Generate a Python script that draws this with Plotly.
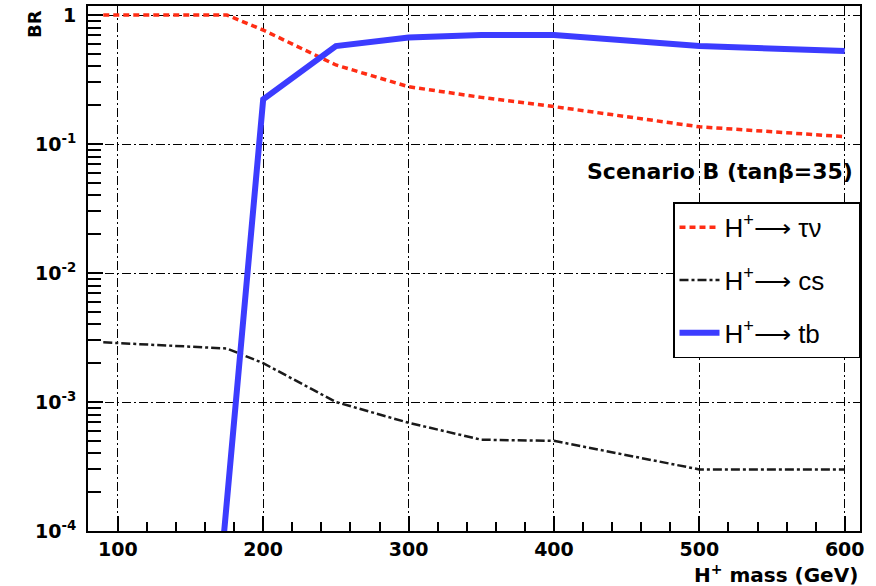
import plotly.graph_objects as go

# ---- data ----
mass_taunu = [90, 175, 200, 250, 300, 350, 400, 500, 600]
br_taunu = [1.0, 1.0, 0.765, 0.41, 0.278, 0.23, 0.195, 0.136, 0.114]

mass_cs = [90, 175, 200, 250, 300, 350, 400, 500, 600]
br_cs = [2.9e-3, 2.6e-3, 2.0e-3, 1.0e-3, 6.9e-4, 5.1e-4, 5.0e-4, 3.0e-4, 3.0e-4]

mass_tb = [170, 200, 250, 300, 350, 400, 500, 600]
br_tb = [4.0e-5, 0.222, 0.575, 0.67, 0.70, 0.70, 0.575, 0.526]

pad = "\u00a0" * 4
names = ["H<sup>+</sup>\u27f6 \u03c4\u03bd" + pad, "H<sup>+</sup>\u27f6 cs" + pad,
         "H<sup>+</sup>\u27f6 tb" + pad]

x_ticks = [100, 200, 300, 400, 500, 600]
x_minor = [v for v in range(80, 611, 20) if v not in x_ticks]
y_ticks = [1e-4, 1e-3, 1e-2, 1e-1, 1]
y_ticktext = ["10<sup>-4</sup>", "10<sup>-3</sup>", "10<sup>-2</sup>", "10<sup>-1</sup>", "1"]
y_minor = [m * d for d in [1e-4, 1e-3, 1e-2, 1e-1] for m in range(2, 10)]

fig = go.Figure()
fig.add_trace(go.Scatter(x=mass_taunu, y=br_taunu, mode="lines", name=names[0],
                         line=dict(color="#ff2d14", width=3.5, dash="6px,4px"),
                         legendgroup="a"))
fig.add_trace(go.Scatter(x=mass_cs, y=br_cs, mode="lines", name=names[1],
                         line=dict(color="#1a1a1a", width=2.5, dash="9px,3px,3px,3px"),
                         legendgroup="b"))
fig.add_trace(go.Scatter(x=mass_tb, y=br_tb, mode="lines", name=names[2],
                         line=dict(color="#3c3cff", width=6),
                         legendgroup="c"))

axis_font = dict(family="DejaVu Sans", size=19, color="black", weight="bold")
grid = dict(showgrid=True, gridcolor="black", gridwidth=1.3, griddash="9px,3px,2px,3px")

fig.update_xaxes(range=[79.5, 610.5], tickvals=x_ticks, ticktext=[str(v) for v in x_ticks],
                 ticks="inside", ticklen=15, tickwidth=1.5, tickcolor="black",
                 minor=dict(tickvals=x_minor, ticks="inside", ticklen=9, tickwidth=1.5,
                            tickcolor="black", showgrid=False),
                 showline=True, linecolor="black", linewidth=2, mirror=True,
                 tickfont=axis_font, zeroline=False, automargin=False, **grid)
fig.update_yaxes(type="log", range=[-4, 0.07], tickvals=y_ticks, ticktext=y_ticktext,
                 ticks="inside", ticklen=15, tickwidth=1.5, tickcolor="black",
                 minor=dict(tickvals=y_minor, ticks="inside", ticklen=13, tickwidth=1.5,
                            tickcolor="black", showgrid=False),
                 showline=True, linecolor="black", linewidth=2, mirror=True,
                 tickfont=axis_font, zeroline=False, automargin=False,
                 ticklabelstandoff=6, **grid)

fig.update_layout(
    width=876, height=586,
    margin=dict(l=88, r=16, t=6, b=55, autoexpand=False),
    plot_bgcolor="white", paper_bgcolor="white",
    legend=dict(x=1, xanchor="right", y=0.626, yanchor="top",
                bgcolor="white", bordercolor="black", borderwidth=1.5,
                font=dict(family="Liberation Sans", size=26, color="black"),
                tracegroupgap=16, itemwidth=40),
    annotations=[
        dict(text="Scenario B (tan\u03b2=35)", xref="paper", yref="paper",
             x=0.9935, y=0.684, xanchor="right", yanchor="middle", showarrow=False,
             font=dict(family="DejaVu Sans", size=22, color="black", weight="bold")),
        dict(text="H<sup>+</sup> mass (GeV)", xref="paper", yref="paper",
             x=1, y=-0.082, xanchor="right", yanchor="middle", showarrow=False,
             font=dict(family="DejaVu Sans", size=20, color="black", weight="bold")),
        dict(text="BR", xref="paper", yref="paper", textangle=-90,
             x=-0.07, y=0.996, xanchor="center", yanchor="top", showarrow=False,
             font=dict(family="DejaVu Sans", size=18, color="black", weight="bold")),
    ],
)

fig.write_html("out.html", config={"displayModeBar": False},
               post_script="document.body.style.margin='0';")
